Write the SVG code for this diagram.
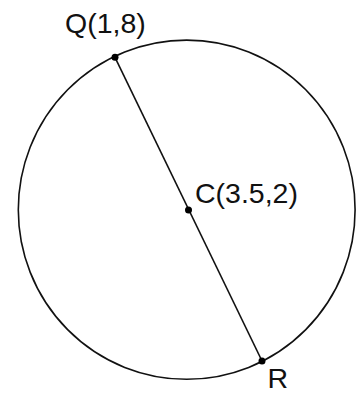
<svg xmlns="http://www.w3.org/2000/svg" width="364" height="393" viewBox="0 0 364 393">
<style>
.s{fill:none;stroke:#111;stroke-width:1.6}
.d{fill:#000}
.t{font-family:"Liberation Sans",Arial,sans-serif;font-size:28.5px;fill:#111}
</style>
<rect width="364" height="393" fill="#fff"/>
<g id="circle"><ellipse class="s" cx="186.7" cy="209.7" rx="168.4" ry="169.6"/></g>
<g id="connectors"><line class="s" x1="115" y1="57.3" x2="262" y2="361"/></g>
<g id="Q"><circle class="d" cx="115" cy="57.3" r="3.5"/><text class="t" x="65" y="33">Q(1,8)</text></g>
<g id="C"><circle class="d" cx="188.5" cy="210" r="3.5"/><text class="t" x="195" y="203">C(3.5,2)</text></g>
<g id="R"><circle class="d" cx="262" cy="361" r="3.5"/><text class="t" x="267.5" y="387.5">R</text></g>
</svg>
